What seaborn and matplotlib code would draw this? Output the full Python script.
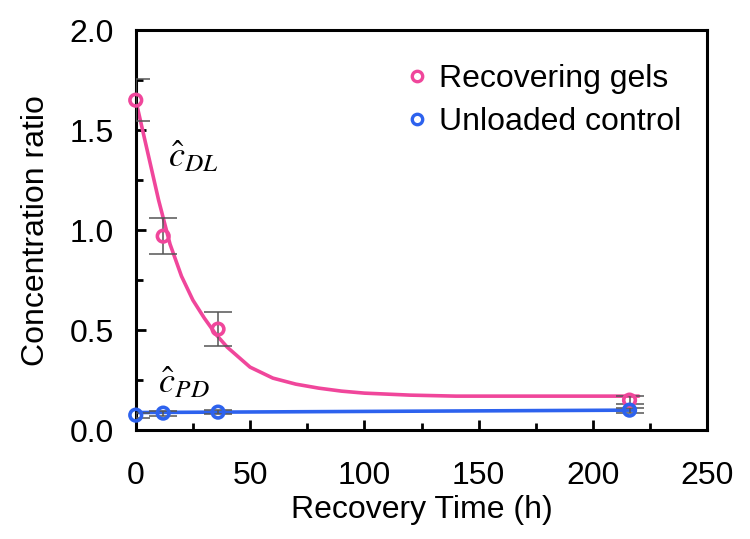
import numpy as np
import pandas as pd
import matplotlib
matplotlib.use("Agg")
import matplotlib.pyplot as plt
import seaborn as sns
from matplotlib.ticker import MultipleLocator

# measured points
time_h = [0, 12, 36, 216]
gel_ratio = [1.65, 0.97, 0.505, 0.15]
gel_err = [0.105, 0.09, 0.085, 0.02]
ctrl_ratio = [0.075, 0.085, 0.09, 0.10]
ctrl_err = [0.012, 0.012, 0.01, 0.012]

# fitted curves
fit_t = [0, 5, 10, 15, 20, 25, 30, 35, 40, 50, 60, 70, 80, 90, 100, 120, 140, 160, 180, 200, 220]
fit_gel = [1.65, 1.40, 1.15, 0.93, 0.77, 0.65, 0.56, 0.48, 0.415, 0.315, 0.26, 0.23, 0.21,
           0.195, 0.185, 0.175, 0.17, 0.17, 0.17, 0.17, 0.17]
fit_ctrl_t = [0, 218]
fit_ctrl = [0.088, 0.10]

PINK = "#F0469B"
BLUE = "#2D62EE"

sns.set_style("ticks")
plt.rcParams["font.family"] = ["Liberation Sans", "DejaVu Sans"]
plt.rcParams["mathtext.fontset"] = "stix"
plt.rcParams["axes.labelcolor"] = "black"
plt.rcParams["text.color"] = "black"

fig = plt.figure(figsize=(7.5, 5.39), dpi=100)
ax = fig.add_axes([0.181, 0.202, 0.762, 0.742])

sns.lineplot(x=fit_t, y=fit_gel, ax=ax, color=PINK, lw=2.6, zorder=2)
sns.lineplot(x=fit_ctrl_t, y=fit_ctrl, ax=ax, color=BLUE, lw=2.6, zorder=2)

ax.errorbar(time_h, gel_ratio, yerr=gel_err, fmt="none", ecolor="#555555",
            elinewidth=1.1, capsize=10, capthick=1.1, zorder=3)
ax.errorbar(time_h, ctrl_ratio, yerr=ctrl_err, fmt="none", ecolor="#555555",
            elinewidth=1.1, capsize=10, capthick=1.1, zorder=3)

pts = pd.DataFrame({
    "t": time_h * 2,
    "ratio": gel_ratio + ctrl_ratio,
    "group": ["Recovering gels"] * 4 + ["Unloaded control"] * 4,
})
sns.scatterplot(data=pts, x="t", y="ratio", hue="group", ax=ax,
                palette={"Recovering gels": PINK, "Unloaded control": BLUE},
                marker="o", s=70, linewidth=2.6, zorder=4, clip_on=False,
                legend=False)
# hollow markers
pts_coll = ax.collections[-1]
pts_coll.set_facecolor("none")
pts_coll.set_edgecolor([PINK] * 4 + [BLUE] * 4)

ax.set_xlim(0, 250)
ax.set_ylim(0, 2.0)
ax.xaxis.set_major_locator(MultipleLocator(50))
ax.xaxis.set_minor_locator(MultipleLocator(25))
ax.set_yticks([0, 0.5, 1.0, 1.5, 2.0])
ax.set_yticklabels(["0.0", "0.5", "1.0", "1.5", "2.0"])
ax.yaxis.set_minor_locator(MultipleLocator(0.25))
ax.tick_params(which="both", direction="in", width=2, labelsize=23, colors="black")
ax.tick_params(axis="x", which="both", pad=22)
ax.tick_params(axis="y", which="both", pad=16)
ax.tick_params(which="major", length=7)
ax.tick_params(which="minor", length=5)
for sp in ax.spines.values():
    sp.set_linewidth(2.2)
    sp.set_color("black")

ax.set_xlabel("Recovery Time (h)", fontsize=23, labelpad=3)
ax.set_ylabel("Concentration ratio", fontsize=23, labelpad=13)

ax.text(14, 1.315, r"$\hat{c}_{DL}$", fontsize=26)
ax.text(9.6, 0.185, r"$\hat{c}_{PD}$", fontsize=26)

handles = [
    plt.Line2D([], [], ls="none", marker="o", mfc="none", mec=PINK, mew=2.4, ms=7.5),
    plt.Line2D([], [], ls="none", marker="o", mfc="none", mec=BLUE, mew=2.4, ms=7.5),
]
ax.legend(handles, ["Recovering gels", "Unloaded control"], loc="upper right",
          bbox_to_anchor=(0.955, 0.915), frameon=False, fontsize=23,
          handletextpad=0.3, borderaxespad=0, borderpad=0,
          labelspacing=0.4, handlelength=0.8)

fig.savefig("out.png", dpi=100)
